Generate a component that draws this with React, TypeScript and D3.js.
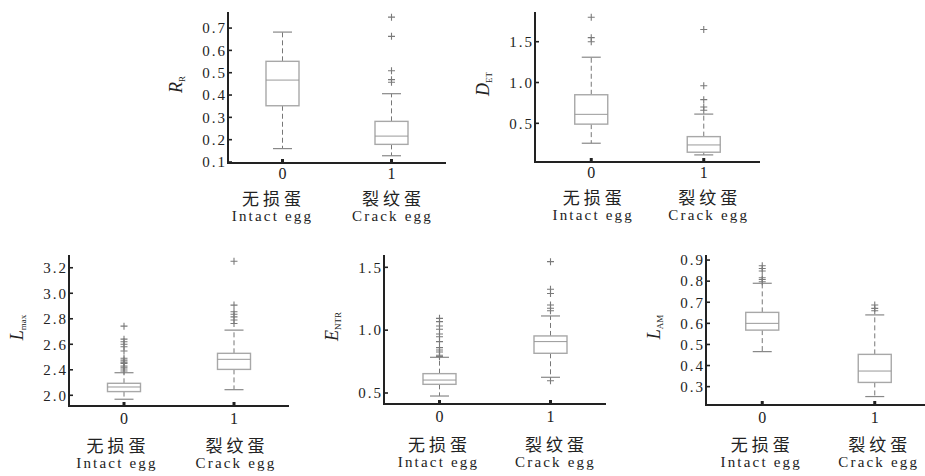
import React, { useRef, useEffect } from 'react';
import * as d3 from 'd3';

// categories shared by every panel
const categories = [0, 1];
const categoryCn = ['无损蛋', '裂纹蛋'];
const categoryEn = ['Intact egg', 'Crack egg'];

// box stats per category: [whisker low, q1, median, q3, whisker high]
const rrStats = [[0.16, 0.352, 0.467, 0.551, 0.682], [0.128, 0.179, 0.216, 0.282, 0.406]];
const rrOutliers = [[], [0.749, 0.663, 0.509, 0.469, 0.457]];
const rrTicks = [0.1, 0.2, 0.3, 0.4, 0.5, 0.6, 0.7];

const detStats = [[0.256, 0.49, 0.61, 0.85, 1.31], [0.113, 0.146, 0.235, 0.337, 0.613]];
const detOutliers = [[1.8, 1.55, 1.5], [1.65, 0.96, 0.79, 0.7, 0.66]];
const detTicks = [0.5, 1.0, 1.5];

const lmaxStats = [[2.169, 2.229, 2.265, 2.294, 2.377], [2.244, 2.403, 2.482, 2.529, 2.711]];
const lmaxOutliers = [
  [2.742, 2.64, 2.62, 2.6, 2.58, 2.547, 2.49, 2.476, 2.46, 2.45, 2.43, 2.42, 2.406, 2.39],
  [3.251, 2.907, 2.855, 2.836, 2.815, 2.79, 2.763],
];
const lmaxTicks = [2.2, 2.4, 2.6, 2.8, 3.0, 3.2];
// the original figure labels the lowest tick "2.0"
const lmaxTickLabels = ['2.0', '2.4', '2.6', '2.8', '3.0', '3.2'];

const entrStats = [[0.476, 0.569, 0.603, 0.654, 0.784], [0.625, 0.816, 0.909, 0.954, 1.113]];
const entrOutliers = [
  [1.094, 1.068, 1.033, 1.007, 0.97, 0.948, 0.909, 0.861, 0.842, 0.826, 0.8, 0.79],
  [1.545, 1.325, 1.292, 1.2, 1.174, 1.155, 0.598],
];
const entrTicks = [0.5, 1.0, 1.5];

const lamStats = [[0.466, 0.568, 0.6, 0.652, 0.79], [0.253, 0.32, 0.374, 0.453, 0.64]];
const lamOutliers = [[0.873, 0.86, 0.848, 0.816, 0.808, 0.797], [0.687, 0.671, 0.66]];
const lamTicks = [0.3, 0.4, 0.5, 0.6, 0.7, 0.8, 0.9];

interface Panel {
  main: string;
  sub: string;
  stats: number[][];
  outliers: number[][];
  ticks: number[];
  tickLabels?: string[];
  domain: [number, number];
  left: number;
  right: number;
  top: number;
  bottom: number;
  catDy: number[];
  labelShift: number[];
}

const panels: Panel[] = [
  { main: 'R', sub: 'R', stats: rrStats, outliers: rrOutliers, ticks: rrTicks,
    domain: [0.0955, 0.772], left: 228, right: 446, top: 12, bottom: 163,
    catDy: [16, 42, 58], labelShift: [-11, 0] },
  { main: 'D', sub: 'ET', stats: detStats, outliers: detOutliers, ticks: detTicks,
    domain: [0.026, 1.864], left: 535, right: 760, top: 12, bottom: 162,
    catDy: [16, 42, 58], labelShift: [1, 4] },
  { main: 'L', sub: 'max', stats: lmaxStats, outliers: lmaxOutliers, ticks: lmaxTicks, tickLabels: lmaxTickLabels,
    domain: [2.116, 3.3], left: 69, right: 289, top: 255, bottom: 406,
    catDy: [18, 46, 62], labelShift: [-8, 1] },
  { main: 'E', sub: 'NTR', stats: entrStats, outliers: entrOutliers, ticks: entrTicks,
    domain: [0.4125, 1.598], left: 384, right: 606, top: 255, bottom: 404,
    catDy: [18, 47, 63], labelShift: [-2, 4] },
  { main: 'L', sub: 'AM', stats: lamStats, outliers: lamOutliers, ticks: lamTicks,
    domain: [0.213, 0.924], left: 706, right: 931, top: 255, bottom: 405,
    catDy: [18, 46, 62], labelShift: [-2, 3] },
];

const serif = '"Liberation Serif", "DejaVu Serif", serif';

const App: React.FC = () => {
  const svgRef = useRef<SVGSVGElement>(null);

  useEffect(() => {
    if (!svgRef.current) return;
    const svg = d3.select(svgRef.current);
    svg.selectAll('*').remove();

    panels.forEach((p) => {
      const g = svg.append('g');
      const x = d3.scaleLinear().domain([-0.5, 1.5]).range([p.left, p.right]);
      const y = d3.scaleLinear().domain(p.domain).range([p.bottom, p.top]);
      const boxW = 33;
      const capW = 19;

      categories.forEach((c, i) => {
        const [lo, q1, med, q3, hi] = p.stats[i];
        const cx = x(c);
        // whiskers
        g.append('line').attr('x1', cx).attr('x2', cx).attr('y1', y(q3)).attr('y2', y(hi))
          .attr('stroke', '#777').attr('stroke-width', 1).attr('stroke-dasharray', '5,3');
        g.append('line').attr('x1', cx).attr('x2', cx).attr('y1', y(q1)).attr('y2', y(lo))
          .attr('stroke', '#777').attr('stroke-width', 1).attr('stroke-dasharray', '5,3');
        [lo, hi].forEach((v) => {
          g.append('line').attr('x1', cx - capW / 2).attr('x2', cx + capW / 2)
            .attr('y1', y(v)).attr('y2', y(v)).attr('stroke', '#888').attr('stroke-width', 1.2);
        });
        // box
        g.append('rect').attr('x', cx - boxW / 2).attr('y', y(q3)).attr('width', boxW)
          .attr('height', y(q1) - y(q3)).attr('fill', 'white')
          .attr('stroke', '#a8a8a8').attr('stroke-width', 1.4);
        g.append('line').attr('x1', cx - boxW / 2).attr('x2', cx + boxW / 2)
          .attr('y1', y(med)).attr('y2', y(med)).attr('stroke', '#999').attr('stroke-width', 1);
        // outliers
        p.outliers[i].forEach((v) => {
          const yy = y(v);
          g.append('path').attr('d', `M${cx - 3.5},${yy}H${cx + 3.5}M${cx},${yy - 3.5}V${yy + 3.5}`)
            .attr('stroke', '#7a7a7a').attr('stroke-width', 1.1).attr('fill', 'none');
        });
        // category labels
        const lx = cx + p.labelShift[i];
        g.append('text').attr('x', cx).attr('y', p.bottom + p.catDy[0])
          .attr('text-anchor', 'middle').attr('font-family', serif).attr('font-size', 16)
          .attr('fill', '#222').text(String(c));
        g.append('text').attr('x', lx + 2).attr('y', p.bottom + p.catDy[1])
          .attr('text-anchor', 'middle').attr('font-family', '"Noto Sans CJK SC", sans-serif')
          .attr('font-size', 17).attr('letter-spacing', 4).attr('fill', '#222')
          .text(categoryCn[i]);
        g.append('text').attr('x', lx + 1).attr('y', p.bottom + p.catDy[2])
          .attr('text-anchor', 'middle').attr('font-family', serif).attr('font-size', 15)
          .attr('letter-spacing', 2.2).attr('fill', '#222').text(categoryEn[i]);
        // x tick (inward)
        g.append('line').attr('x1', cx).attr('x2', cx).attr('y1', p.bottom).attr('y2', p.bottom - 4)
          .attr('stroke', '#222').attr('stroke-width', 3);
      });

      // y ticks (inward) and labels
      p.ticks.forEach((t, k) => {
        g.append('line').attr('x1', p.left).attr('x2', p.left + 4).attr('y1', y(t)).attr('y2', y(t))
          .attr('stroke', '#222').attr('stroke-width', 1.6);
        g.append('text').attr('x', p.left - 1).attr('y', y(t)).attr('dy', '0.35em')
          .attr('text-anchor', 'end').attr('font-family', serif).attr('font-size', 15)
          .attr('letter-spacing', 2).attr('fill', '#222')
          .text(p.tickLabels ? p.tickLabels[k] : d3.format('.1f')(t));
      });

      // axes
      g.append('path').attr('d', `M${p.left},${p.top}V${p.bottom}H${p.right}`)
        .attr('fill', 'none').attr('stroke', '#222').attr('stroke-width', 2);

      // axis label
      const ly = (p.top + p.bottom) / 2 - 3;
      const lbl = g.append('text').attr('transform', `translate(${p.left - 46},${ly}) rotate(-90)`)
        .attr('text-anchor', 'middle').attr('font-family', serif).attr('fill', '#222');
      lbl.append('tspan').attr('font-style', 'italic').attr('font-size', 18).text(p.main);
      lbl.append('tspan').attr('dy', 3).attr('font-size', 9).text(p.sub);
    });
  }, []);

  return (
    <svg ref={svgRef} width={925} height={476}
      style={{ position: 'absolute', left: 0, top: 0, background: 'white' }} />
  );
};

export default App;
